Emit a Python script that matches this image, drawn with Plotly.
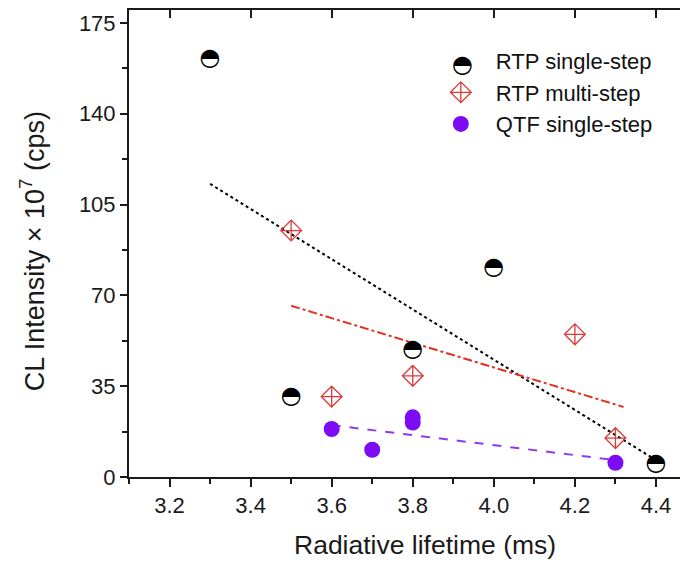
import plotly.graph_objects as go

# RTP single-step (half-filled black circles)
rtp_single_x = [3.3, 3.5, 3.8, 4.0, 4.4]
rtp_single_y = [161, 31, 49, 80.5, 5]

# RTP multi-step (open red diamonds with cross)
rtp_multi_x = [3.5, 3.6, 3.8, 4.2, 4.3]
rtp_multi_y = [95, 31, 39, 55, 15]

# QTF single-step (filled purple circles)
qtf_single_x = [3.6, 3.7, 3.8, 3.8, 4.3]
qtf_single_y = [18.5, 10.5, 23, 21, 5.5]

# linear fit lines, end points
fit_single_x = [3.3, 4.4]
fit_single_y = [113, 6.5]
fit_multi_x = [3.5, 4.32]
fit_multi_y = [66, 27]
fit_qtf_x = [3.6, 4.3]
fit_qtf_y = [20, 6.5]

series_names = ["RTP single-step", "RTP multi-step", "QTF single-step"]
x_title = "Radiative lifetime (ms)"
y_title = "CL Intensity \u00d7 10<sup>7</sup> (cps)"

FONT = "Liberation Sans, Arial, sans-serif"
AX = "#1a1a1a"
RED = "#dd3a3a"
PURPLE = "#7d0cf5"

fig = go.Figure()

# fit lines first so markers sit on top
fig.add_trace(go.Scatter(x=fit_single_x, y=fit_single_y, mode="lines",
                         line=dict(color="black", width=2, dash="dot"),
                         showlegend=False, hoverinfo="skip"))
fig.add_trace(go.Scatter(x=fit_multi_x, y=fit_multi_y, mode="lines",
                         line=dict(color="#e5301f", width=2, dash="dashdot"),
                         showlegend=False, hoverinfo="skip"))
fig.add_trace(go.Scatter(x=fit_qtf_x, y=fit_qtf_y, mode="lines",
                         line=dict(color="#8a3cf0", width=2, dash="dash"),
                         showlegend=False, hoverinfo="skip"))

# half-filled circles: white disc + glyph on top
fig.add_trace(go.Scatter(
    x=rtp_single_x, y=rtp_single_y, mode="markers+text",
    text=["\u25d3"] * len(rtp_single_x), textposition="middle center",
    textfont=dict(family="DejaVu Sans", size=24, color="black"),
    marker=dict(symbol="circle", size=16, color="white", line=dict(width=0)),
    showlegend=False))
# legend entry for it (icon drawn by annotation)
fig.add_trace(go.Scatter(x=[None], y=[None], mode="markers", name=series_names[0],
                         marker=dict(size=16, color="rgba(0,0,0,0)")))

fig.add_trace(go.Scatter(
    x=rtp_multi_x, y=rtp_multi_y, mode="markers", name=series_names[1],
    marker=dict(symbol="diamond-cross-open", size=16, color=RED,
                line=dict(width=1.3, color=RED))))

fig.add_trace(go.Scatter(
    x=qtf_single_x, y=qtf_single_y, mode="markers", name=series_names[2],
    marker=dict(symbol="circle", size=16, color=PURPLE)))

# helper trace for the top / right frame axes
fig.add_trace(go.Scatter(x=[None], y=[None], xaxis="x2", yaxis="y2",
                         showlegend=False, hoverinfo="skip"))

fig.add_annotation(x=0.596, y=0.884, xref="paper", yref="paper", text="\u25d3",
                   xanchor="center", yanchor="middle", showarrow=False,
                   font=dict(family="DejaVu Sans", size=24, color="black"))

# axis titles (the original sits them a little off-centre)
fig.add_annotation(x=0.53, y=-0.146, xref="paper", yref="paper", text=x_title,
                   xanchor="center", yanchor="middle", showarrow=False,
                   font=dict(family=FONT, size=26.5, color=AX))
fig.add_annotation(x=-0.172, y=0.483, xref="paper", yref="paper", text=y_title,
                   textangle=-90, xanchor="center", yanchor="middle", showarrow=False,
                   font=dict(family=FONT, size=27, color=AX))

XR = [3.1, 4.479]
YR = [0, 180]

fig.update_layout(
    width=680, height=563,
    margin=dict(l=121, r=0, t=2, b=94),
    paper_bgcolor="white", plot_bgcolor="white",
    font=dict(family=FONT, color=AX),
    xaxis=dict(range=XR, tick0=3.2, dtick=0.2, tickformat=".1f",
               ticks="outside", ticklen=8, tickwidth=2, tickcolor=AX,
               showline=True, linewidth=2, linecolor=AX, showgrid=False, zeroline=False,
               tickfont=dict(size=22, family=FONT),
               minor=dict(ticks="outside", ticklen=5, tickwidth=2, tickcolor=AX, dtick=0.1, tick0=3.1)),
    yaxis=dict(range=YR, tick0=0, dtick=35,
               ticks="outside", ticklen=7, tickwidth=2, tickcolor=AX,
               showline=True, linewidth=2, linecolor=AX, showgrid=False, zeroline=False,
               tickfont=dict(size=22, family=FONT),
               minor=dict(ticks="outside", ticklen=5, tickwidth=2, tickcolor=AX, dtick=17.5, tick0=0)),
    xaxis2=dict(range=XR, overlaying="x", side="top", anchor="y", tick0=3.2, dtick=0.2,
                ticks="inside", ticklen=8, tickwidth=2, tickcolor=AX,
                showline=True, linewidth=2, linecolor=AX, showgrid=False, zeroline=False,
                showticklabels=False),
    yaxis2=dict(range=YR, overlaying="y", side="right", anchor="x", tick0=0, dtick=35,
                ticks="inside", ticklen=6, tickwidth=2, tickcolor=AX,
                showline=False, showgrid=False, zeroline=False, showticklabels=False),
    legend=dict(x=0.531, y=0.936, xanchor="left", yanchor="top",
                font=dict(size=22, family=FONT, color="#111"),
                bgcolor="rgba(0,0,0,0)", itemwidth=60, tracegroupgap=0),
)

fig.write_html("out.html")
